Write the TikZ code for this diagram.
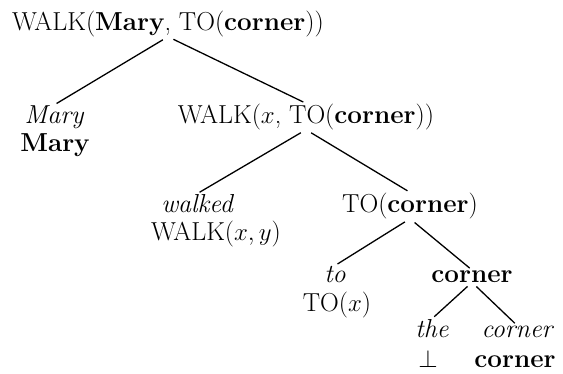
\documentclass[tikz,border=0pt]{standalone}
\tikzset{
  word/.style={anchor=base, inner sep=0pt, font=\fontsize{26}{31}\selectfont\itshape},
  sem/.style={anchor=base, inner sep=0pt, font=\fontsize{26}{31}\selectfont},
  branch/.style={line width=1.3pt, shorten <=6pt, shorten >=3pt}
}
\begin{document}
\begin{tikzpicture}[x=1pt, y=-1pt]
        \useasboundingbox (0,0) rectangle (563,373);
        % Root
        \node[sem] (root) at (168,30) {WALK(\textbf{Mary}, TO(\textbf{corner}))};

        % Subject
        \node[word] (maryw) at (54,123) {Mary};
        \node[sem] (marys) at (55,151) {\textbf{Mary}};

        % Verb phrase
        \node[sem] (vp) at (306,123) {WALK($x$, TO(\textbf{corner}))};
        \node[word] (walkedw) at (197,212) {walked};
        \node[sem] (walkeds) at (216,240) {WALK($x,y$)};

        % Prepositional phrase
        \node[sem] (pp) at (410,212) {TO(\textbf{corner})};
        \node[word] (tow) at (335,282) {to};
        \node[sem] (tos) at (337,311) {TO($x$)};

        % Noun phrase
        \node[sem] (np) at (472,282) {\textbf{corner}};
        \node[word] (thew) at (432,337) {the};
        \node[sem] (thes) at (428,367) {$\bot$};
        \node[word] (cornerw) at (517,337) {corner};
        \node[sem] (corners) at (515,367) {\textbf{corner}};

        % Branches
        \draw[branch] (root.south) -- (maryw.north);
        \draw[branch] (root.south) -- (vp.north);
        \draw[branch] (vp.south) -- (walkedw.north);
        \draw[branch] (vp.south) -- (pp.north);
        \draw[branch] (pp.south) -- (tow.north);
        \draw[branch] (pp.south) -- (np.north);
        \draw[branch] (np.south) -- (thew.north);
        \draw[branch] (np.south) -- (cornerw.north);
    \end{tikzpicture}
\end{document}
